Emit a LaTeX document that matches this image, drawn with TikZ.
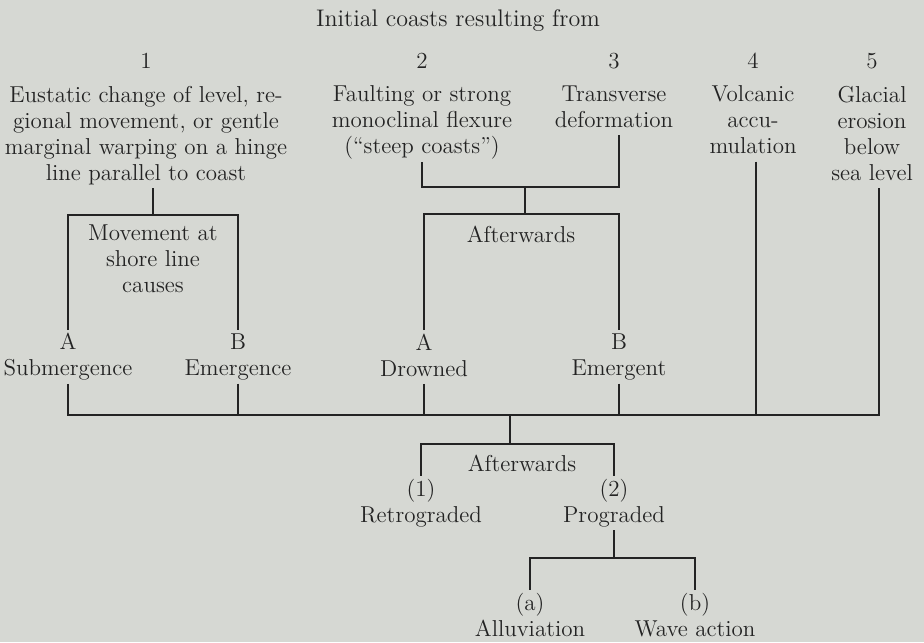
\documentclass[tikz,border=0pt]{standalone}
\usepackage{xcolor}
\definecolor{paper}{RGB}{214,216,211}
\definecolor{ink}{RGB}{35,35,35}
\newcommand{\lblstrut}{\rule[-0.17\baselineskip]{0pt}{\baselineskip}}
\tikzset{
  lbl/.style={align=center, text=ink, inner sep=1.5pt,
    execute at begin node=\lblstrut, execute at end node=\lblstrut},
  ln/.style={draw=ink, line width=0.6pt}
}
\begin{document}
\begin{tikzpicture}[x=0.5pt, y=-0.5pt, font=\fontsize{11.5}{13}\selectfont]
    \fill[paper] (0,0) rectangle (924,642);
    \useasboundingbox (0,0) rectangle (924,642);

    \node[lbl, font=\fontsize{12}{13}\selectfont] (title) at (458,18) {Initial coasts resulting from};

    % the five kinds of initial coast
    \node[lbl] (n1) at (146,60) {1};
    \node[lbl] (n2) at (422,60) {2};
    \node[lbl] (n3) at (614,60) {3};
    \node[lbl] (n4) at (753,60) {4};
    \node[lbl] (n5) at (872,60) {5};
    \node[lbl] (c1) at (146,135.5) {Eustatic change of level, re-\\gional movement, or gentle\\marginal warping on a hinge\\line parallel to coast};
    \node[lbl] (c2) at (422,122) {Faulting or strong\\monoclinal flexure\\(``steep coasts'')};
    \node[lbl] (c3) at (614,109) {Transverse\\deformation};
    \node[lbl] (c4) at (753,122) {Volcanic\\accu-\\mulation};
    \node[lbl] (c5) at (872,135.5) {Glacial\\erosion\\below\\sea level};

    % first branching
    \node[lbl] (mv) at (153,261) {Movement at\\shore line\\causes};
    \node[lbl] (subm) at (68,357) {A\\Submergence};
    \node[lbl] (emer) at (238,357) {B\\Emergence};
    \node[lbl] (aft1) at (521,234) {Afterwards};
    \node[lbl] (drow) at (424,357) {A\\Drowned};
    \node[lbl] (emgt) at (619,357) {B\\Emergent};

    \coordinate (j1) at (153,215);
    \coordinate (k2) at (525,187);
    \coordinate (j2) at (525,214);
    \coordinate (base) at (510,415);

    \draw[ln] (j1) -- (j1 |- c1.south);
    \draw[ln] (subm.north) |- (j1) -| (emer.north);
    \draw[ln] (c2.south) |- (k2) -| ([xshift=2.5pt]c3.south);
    \draw[ln] (k2) -- (j2);
    \draw[ln] (drow.north) |- (j2) -| (emgt.north);

    % everything joins up
    \draw[ln] (subm.south) |- (base);
    \draw[ln] (emer.south) -- (emer.south |- base);
    \draw[ln] (drow.south) -- (drow.south |- base);
    \draw[ln] (emgt.south) -- (emgt.south |- base);
    \draw[ln] ([xshift=1.5pt]c4.south) -- ([xshift=1.5pt]c4.south |- base);
    \draw[ln] ([xshift=3.5pt]c5.south) |- (base);

    % later history
    \node[lbl] (aft2) at (522,463) {Afterwards};
    \node[lbl] (retr) at (421,503) {(1)\\Retrograded};
    \node[lbl] (prog) at (614,503) {(2)\\Prograded};
    \node[lbl] (allu) at (530,617) {(a)\\Alluviation};
    \node[lbl] (wave) at (695,617) {(b)\\Wave action};

    \coordinate (j3) at (510,444);
    \coordinate (j4) at (614,558);

    \draw[ln] (base) -- (j3);
    \draw[ln] (retr.north) |- (j3) -| (prog.north);
    \draw[ln] (prog.south) -- (j4);
    \draw[ln] (allu.north) |- (j4) -| (wave.north);
\end{tikzpicture}
\end{document}
